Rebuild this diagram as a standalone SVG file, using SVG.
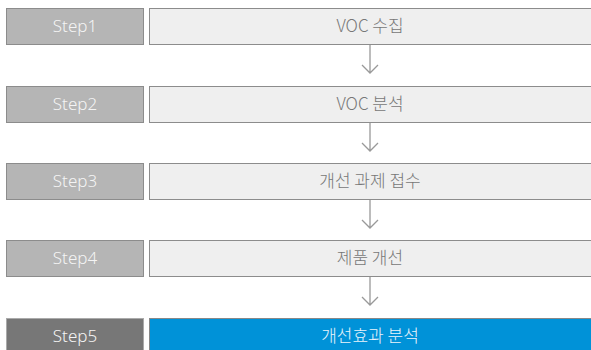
<svg xmlns="http://www.w3.org/2000/svg" width="591" height="350" viewBox="0 0 591 350">
<style>
.sl{fill:#b5b5b5;stroke:#8c8c8c;stroke-width:1}
.sr{fill:#efefef;stroke:#8c8c8c;stroke-width:1}
.st{font-family:"Noto Sans","Noto Sans CJK KR",sans-serif;font-size:17px;font-weight:300;fill:#f4f4f4;text-anchor:middle}
.rt{font-family:"Noto Sans CJK KR","Noto Sans",sans-serif;font-size:17px;font-weight:300;fill:#777;text-anchor:middle}
.c{stroke:#999;stroke-width:1.3;fill:none}
</style>
<rect width="591" height="350" fill="#fff"/>
<g id="step1"><rect class="sl" x="6.5" y="8.5" width="137" height="36"/><rect class="sr" x="149.5" y="8.5" width="450" height="36"/><text class="st" x="75" y="32">Step1</text><text class="rt" x="370" y="32">VOC 수집</text></g>
<g id="step2"><rect class="sl" x="6.5" y="86.5" width="137" height="36"/><rect class="sr" x="149.5" y="86.5" width="450" height="36"/><text class="st" x="75" y="110">Step2</text><text class="rt" x="370" y="110">VOC 분석</text></g>
<g id="step3"><rect class="sl" x="6.5" y="163.5" width="137" height="36"/><rect class="sr" x="149.5" y="163.5" width="450" height="36"/><text class="st" x="75" y="187">Step3</text><text class="rt" x="370" y="187">개선 과제 접수</text></g>
<g id="step4"><rect class="sl" x="6.5" y="240.5" width="137" height="36"/><rect class="sr" x="149.5" y="240.5" width="450" height="36"/><text class="st" x="75" y="264">Step4</text><text class="rt" x="370" y="264">제품 개선</text></g>
<g id="step5"><rect x="6.5" y="318.5" width="137" height="40" fill="#777" stroke="#aaa"/><rect x="149.5" y="318.5" width="450" height="40" fill="#0092d8" stroke="#888"/><text class="st" x="75" y="342">Step5</text><text class="rt" x="370" y="342" style="fill:#eaf4fb">개선효과 분석</text></g>
<g id="connectors">
<path class="c" d="M370 45V73M362 65L370 73L378 65"/>
<path class="c" d="M370 123V151M362 143L370 151L378 143"/>
<path class="c" d="M370 200V228M362 220L370 228L378 220"/>
<path class="c" d="M370 277V305M362 297L370 305L378 297"/>
</g>
</svg>
